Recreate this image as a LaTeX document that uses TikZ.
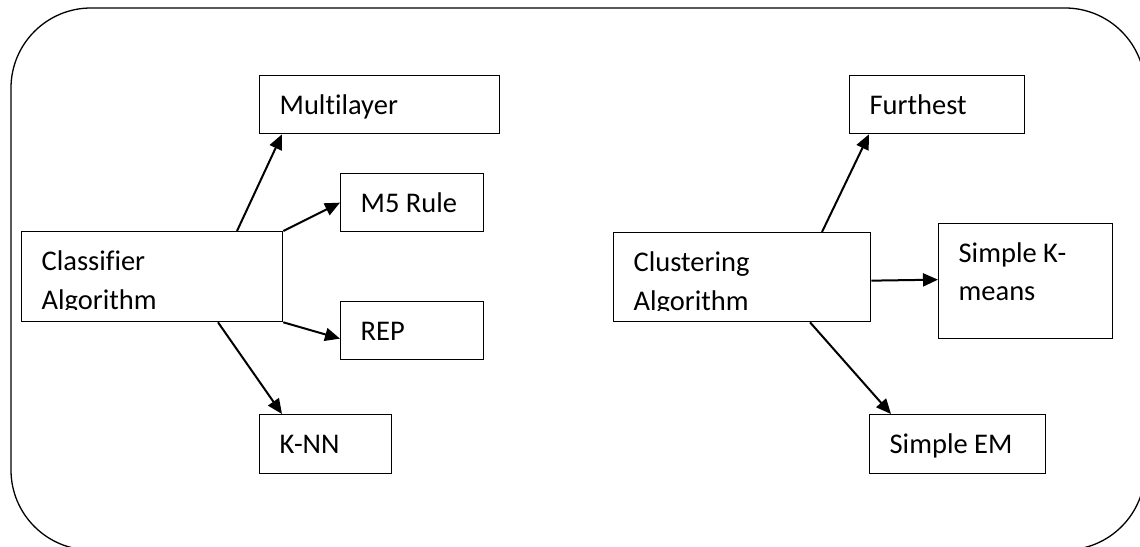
\documentclass[tikz,border=0pt]{standalone}
\usepackage{fontspec}
\setmainfont{Carlito}[Ligatures={NoCommon}]
\usepackage{trimclip}
\usepackage{tikz}
\usetikzlibrary{arrows.meta, positioning}

\tikzset{
    blk/.style={draw, line width=1.3pt, anchor=north west, inner xsep=20pt, inner ysep=0pt,
        align=flush left, text height=39pt, text depth=19pt, font=\fontsize{28.5}{39}\selectfont},
    link/.style={line width=2pt, -{Triangle[length=15pt, width=13pt]}}
}

\newcommand{\cutline}[1]{\clipbox{0pt {\depth} 0pt 0pt}{#1}}

\begin{document}
\begin{tikzpicture}[x=1pt, y=-1pt]
        \clip (0,0) rectangle (1140,546);
        \draw[line width=1.3pt, rounded corners=80pt] (11,8) rectangle (1145,550);

        \node[blk, text width=221pt, text depth=51pt] (cls) at (21,231) {Classifier\\\cutline{Algorithm}};
        \node[blk, text width=200pt] (multi) at (259,75) {Multilayer};
        \node[blk, text width=103pt] (mfive) at (340,173) {M5 Rule};
        \node[blk, text width=103pt] (rep) at (340,301) {REP};
        \node[blk, text width=92pt, text depth=20pt] (knn) at (259,414) {K-NN};

        \node[blk, text width=217pt, text depth=50pt] (clu) at (613,232) {Clustering\\\cutline{Algorithm}};
        \node[blk, text width=135pt] (fur) at (849,75) {Furthest};
        \node[blk, text width=134pt, text depth=76pt, font=\fontsize{28.5}{38}\selectfont] (skm) at (938,223) {Simple K-\\means};
        \node[blk, text width=136pt, text depth=20pt] (sem) at (869,414) {Simple EM};

        \draw[link] ([xshift=216pt]cls.north west) -- ([xshift=23pt]multi.south west);
        \draw[link] (cls.north east) -- (mfive.west);
        \draw[link] (cls.south east) -- ([yshift=-8pt]rep.west);
        \draw[link] ([xshift=197pt]cls.south west) -- ([xshift=23pt]knn.north west);

        \draw[link] ([xshift=209pt]clu.north west) -- ([xshift=20pt]fur.south west);
        \draw[link] ([yshift=-3.5pt]clu.east) -- ([yshift=1.5pt]skm.west);
        \draw[link] ([xshift=197pt]clu.south west) -- ([xshift=22pt]sem.north west);

    \end{tikzpicture}
\end{document}
